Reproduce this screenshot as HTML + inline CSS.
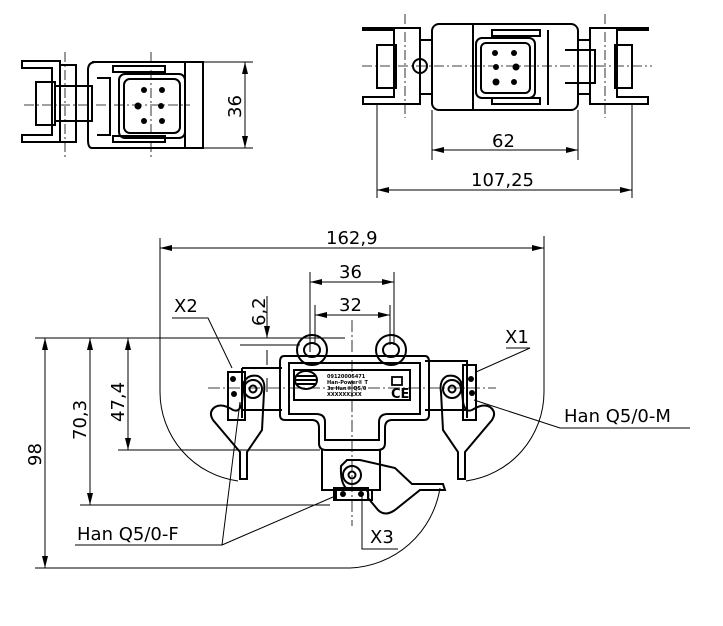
<!DOCTYPE html>
<html><head><meta charset="utf-8"><style>
html,body{margin:0;padding:0;background:#fff;}
svg{display:block;}
text{font-family:"DejaVu Sans","Liberation Sans",sans-serif;fill:#000;}
</style></head><body>
<svg width="723" height="626" viewBox="0 0 723 626" xmlns="http://www.w3.org/2000/svg">
<defs>
<marker id="a" viewBox="0 0 12 6" refX="12" refY="3" markerWidth="12" markerHeight="6" orient="auto-start-reverse" markerUnits="userSpaceOnUse"><path d="M0,0 L12,3 L0,6 z" fill="#000"/></marker>
</defs>
<g fill="none" stroke="#000">

<!-- ===== Top-left view ===== -->
<g stroke-width="2">
<path d="M22,68 H52 V135 H22 V142 H60 V61 H22 Z"/>
<path d="M36,82 H55 V125 H36 Z"/>
<path d="M55,86 H92 V121 H55"/>
<path d="M60,65 H76 V142 H60"/>
<path d="M92,62 H203 V148 H92 Q88,148 88,140 V70 Q88,62 96,62"/>
<path d="M97,78 H110 V135 H97"/>
<path d="M113,66 H165 V72 H113 Z M113,142 H165 V136 H113 Z"/>
<rect x="119" y="74" width="66" height="64" rx="6"/>
<rect x="124" y="79" width="56" height="54" rx="6"/>
<path d="M185,62 V148"/>
</g>
<g fill="#000" stroke="none">
<circle cx="144" cy="90" r="3"/><circle cx="162" cy="90" r="3"/><circle cx="138" cy="106" r="3.5"/><circle cx="161" cy="106" r="3"/><circle cx="144" cy="121" r="3"/><circle cx="162" cy="121" r="3"/>
</g>
<g stroke-width="0.8" stroke-dasharray="10,3,2,3">
<path d="M24,105 H190"/><path d="M65,52 V158"/><path d="M151,52 V158"/>
</g>
<g stroke-width="1">
<path d="M203,62 H253 M203,148 H253"/>
<path d="M245,62 V148" marker-start="url(#a)" marker-end="url(#a)"/>
</g>

<!-- ===== Top-right view ===== -->
<g stroke-width="2">
<path d="M363,30 H394 V97 H363 V104 H420 V28 H363 Z"/>
<path d="M377,45 H396 V88 H377 Z"/>
<path d="M648,30 H617 V97 H648 V104 H590 V28 H648 Z"/>
<path d="M615,45 H632 V88 H615 Z"/>
<path d="M420,40 H432 M420,94 H432 M578,40 H590 M578,94 H590"/>
<path d="M565,50 H595 V83 H565"/>
<rect x="432" y="24" width="146" height="86" rx="7"/>
<path d="M473,24 V110 M548,30 V105"/>
<path d="M492,30 H540 V36 H492 Z M492,104 H540 V98 H492 Z"/>
<rect x="476" y="38" width="59" height="60" rx="6"/>
<rect x="481" y="43" width="49" height="50" rx="5"/>
<circle cx="420" cy="66" r="7"/>
</g>
<g fill="#000" stroke="none">
<circle cx="495" cy="53" r="3"/><circle cx="514" cy="53" r="3"/><circle cx="496" cy="67" r="3"/><circle cx="516" cy="67" r="3.5"/><circle cx="496" cy="82" r="3.5"/><circle cx="514" cy="82" r="3"/>
</g>
<g stroke-width="0.8" stroke-dasharray="10,3,2,3">
<path d="M362,66 H652"/><path d="M405,14 V118"/><path d="M605,14 V118"/>
</g>
<g stroke-width="1">
<path d="M432,110 V160 M578,110 V160 M377,105 V198 M632,105 V198"/>
<path d="M432,150 H578" marker-start="url(#a)" marker-end="url(#a)"/>
<path d="M377,190 H632" marker-start="url(#a)" marker-end="url(#a)"/>
</g>

<!-- ===== Main view: envelope ===== -->
<g stroke-width="1">
<path d="M160,238 V392 A90,90 0 0 0 238,481"/>
<path d="M544,236 V392 A90,90 0 0 1 466,481"/>
<path d="M440,488 A95,95 0 0 1 350,568 H35"/>
<path d="M160,248 H544" marker-start="url(#a)" marker-end="url(#a)"/>
<path d="M310,272 V352 M394,272 V345 M315,305 V345 M390,305 V345"/>
<path d="M310,282 H394" marker-start="url(#a)" marker-end="url(#a)"/>
<path d="M315,315 H390" marker-start="url(#a)" marker-end="url(#a)"/>
<path d="M267,296 V338" marker-end="url(#a)"/>
<path d="M267,350 V365 M267,392 V378" />
<path d="M240,345 H300"/>
<path d="M35,338 H345"/>
<path d="M45,338 V568" marker-start="url(#a)" marker-end="url(#a)"/>
<path d="M80,505 H330"/>
<path d="M90,338 V505" marker-start="url(#a)" marker-end="url(#a)"/>
<path d="M118,450 H320"/>
<path d="M128,338 V450" marker-start="url(#a)" marker-end="url(#a)"/>
<path d="M172,318 H208 L232,368"/>
<path d="M506,348 H530 L476,372"/>
<path d="M690,428 H560 L474,400"/>
<path d="M75,545 H222 L240,402 M222,545 L333,497"/>
<path d="M362,496 V549 H398"/>
</g>
<g stroke-width="0.8" stroke-dasharray="12,3,2,3">
<path d="M208,388 H496"/><path d="M352,320 V526"/>
</g>

<!-- ===== Main view: part ===== -->
<g stroke-width="2">
<path d="M242,368 H282 M242,368 V418 M242,410 H282"/>
<path d="M425,361 H467 V418 M425,410 H467"/>
<path d="M228,372 H245 V420 H228 Z"/>
<path d="M463,365 H476 V420 H463 Z"/>
<circle cx="312" cy="350" r="15"/><ellipse cx="312" cy="350" rx="8" ry="7"/>
<circle cx="391" cy="350" r="15"/><ellipse cx="391" cy="350" rx="8" ry="7"/>
<path d="M284,356 H425 Q429,356 429,362 V415 Q429,420 424,420 H392 Q385,420 385,428 V443 Q385,450 378,450 H326 Q319,450 319,443 V428 Q319,420 312,420 H285 Q280,420 280,415 V362 Q280,356 284,356 Z"/>
<path d="M289,363 H420 V414 H388 Q379,414 379,422 V440 H325 V422 Q325,414 316,414 H289 Z"/>
<rect x="294" y="370" width="116" height="30"/>
<ellipse cx="306" cy="380" rx="11" ry="9"/>
<path d="M296,380 H316 M297,376 H315 M297,384 H315"/>
<path d="M322,450 V490 H380 V450"/>
<path d="M336,490 V500 H372 V490"/>
<circle cx="253" cy="389" r="9"/><circle cx="253" cy="389" r="3.5"/>
<path d="M244,382 Q248,374 258,376 Q266,380 264,392 L262,430 L247,452 V479 H240 V452 L213,420 Q208,412 215,407 Q222,403 233,410 Q240,413 242,402 Z"/>
<circle cx="452" cy="389" r="9"/><circle cx="452" cy="389" r="3.5"/>
<path d="M461,382 Q457,374 447,376 Q439,380 441,392 L443,430 L458,452 V479 H465 V452 L492,420 Q497,412 490,407 Q483,403 472,410 Q465,413 463,402 Z"/>
<circle cx="352" cy="475" r="9"/><circle cx="352" cy="475" r="3.5"/>
<path d="M341,466 L347,460 H360 L395,468 L412,484 H443 L445,490 H420 L395,510 Q385,517 378,510 L368,498 Q370,488 360,488 L348,490 Q340,484 341,466 Z"/>
<path d="M334,488 H368 V500 H334 Z"/>
</g>
<g fill="#000" stroke="none">
<circle cx="233" cy="379" r="3"/><circle cx="234" cy="394" r="3"/>
<circle cx="471" cy="379" r="3"/><circle cx="472" cy="393" r="3"/>
<circle cx="343" cy="494" r="3"/><circle cx="361" cy="494" r="3"/>
</g>
<g font-size="5" stroke="none" font-weight="bold">
<text x="327" y="378">09120005471</text>
<text x="327" y="384">Han-Power® T</text>
<text x="327" y="390">3x Han® Q5/0</text>
<text x="327" y="396">XXXXXXXXX</text>
</g>
<text x="391" y="398" font-size="13" font-weight="bold" stroke="none">CE</text>
<rect x="392" y="377" width="10" height="8" fill="none" stroke="#000" stroke-width="1.8"/>
</g>

<!-- ===== Text ===== -->
<g font-size="18">
<text x="0" y="0" transform="translate(241,118) rotate(-90)">36</text>
<text x="492" y="147">62</text>
<text x="471" y="186">107,25</text>
<text x="326" y="244">162,9</text>
<text x="339" y="278">36</text>
<text x="339" y="311">32</text>
<text x="0" y="0" transform="translate(265,326) rotate(-90)">6,2</text>
<text x="174" y="312">X2</text>
<text x="505" y="343">X1</text>
<text x="564" y="422">Han Q5/0-M</text>
<text x="77" y="540">Han Q5/0-F</text>
<text x="370" y="543">X3</text>
<text x="0" y="0" transform="translate(41,466) rotate(-90)">98</text>
<text x="0" y="0" transform="translate(86,440) rotate(-90)">70,3</text>
<text x="0" y="0" transform="translate(124,422) rotate(-90)">47,4</text>
</g>
</svg>
</body></html>
